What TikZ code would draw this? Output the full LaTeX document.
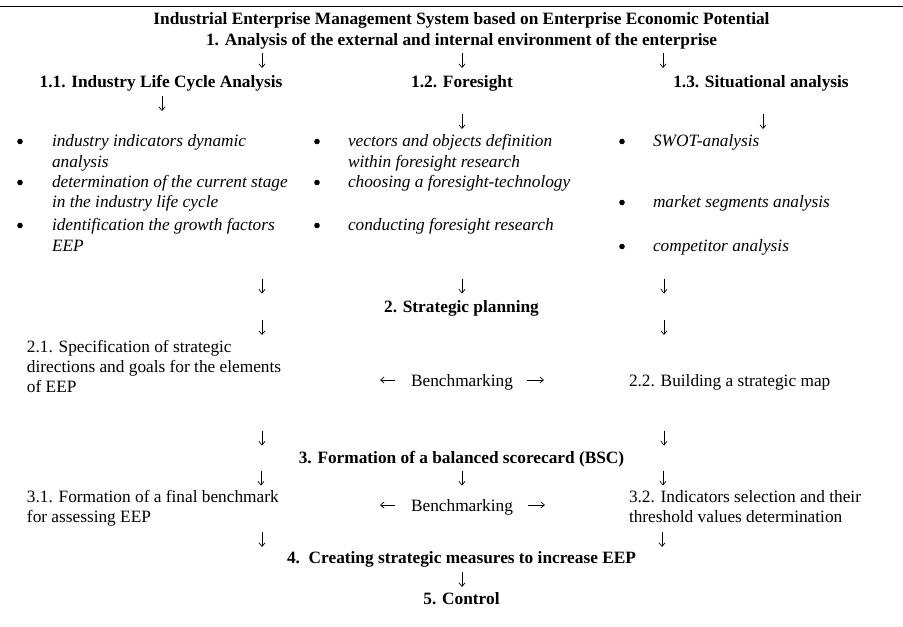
\documentclass[tikz,border=0pt]{standalone}
\usepackage{fontspec}
\setmainfont{Liberation Serif}
\usetikzlibrary{arrows.meta}
\newcommand\bodysize{\fontsize{17.3pt}{20.5pt}\selectfont}
% a short downward arrow #1 centred at (#2,#3)
\newcommand\downflow[3]{%
  \coordinate (#1-top) at (#2,#3-7.5);
  \coordinate (#1-tip) at (#2,#3+7.5);
  \draw[flowline] (#1-top) -- (#1-tip);}
% a short horizontal arrow #1 from x=#2 to x=#3 at height #4
\newcommand\sideflow[4]{%
  \coordinate (#1-tail) at (#2,#4);
  \coordinate (#1-tip) at (#3,#4);
  \draw[flowline] (#1-tail) -- (#1-tip);}
\tikzset{
  heading/.style={inner sep=0pt, outer sep=0pt, anchor=base, font=\bodysize\bfseries},
  plain/.style={inner sep=0pt, outer sep=0pt, anchor=base west, font=\bodysize},
  centred/.style={inner sep=0pt, outer sep=0pt, anchor=base, font=\bodysize},
  item/.style={inner sep=0pt, outer sep=0pt, anchor=base west, font=\bodysize\itshape},
  dot/.style={circle, fill=black, inner sep=0pt, minimum size=5.6pt},
  flowline/.style={line width=0.7pt, -{Straight Barb[length=3.6pt,width=6pt,line width=0.7pt]}},
  rule/.style={line width=0.9pt}
}
\begin{document}
\begin{tikzpicture}[x=1pt,y=-1pt]
  \useasboundingbox (0,0) rectangle (903,627);

  % top rule
  \coordinate (ruleL) at (0,6.5);
  \coordinate (ruleR) at (903,6.5);
  \draw[rule] (ruleL) -- (ruleR);

  % title and stage 1
  \node[heading] (title) at (461.5,24) {Industrial Enterprise Management System based on Enterprise Economic Potential};
  \node[heading] (s1) at (461.5,45) {1. Analysis of the external and internal environment of the enterprise};
  \downflow{d1a}{262}{60.5}
  \downflow{d1b}{462}{60.5}
  \downflow{d1c}{663}{60.5}
  \node[heading] (s11) at (161,87) {1.1. Industry Life Cycle Analysis};
  \node[heading] (s12) at (462,87) {1.2. Foresight};
  \node[heading] (s13) at (761,87) {1.3. Situational analysis};
  \downflow{d11}{162}{103.5}
  \downflow{d12}{462}{121.5}
  \downflow{d13}{763}{121.5}

  % 1.1 items
  \node[dot] (b11a) at (20,141.5) {};
  \node[item] (i11a) at (52,146) {industry indicators dynamic};
  \node[item] (i11a2) at (52,167) {analysis};
  \node[dot] (b11b) at (20,182.5) {};
  \node[item] (i11b) at (52,187) {determination of the current stage};
  \node[item] (i11b2) at (52,207) {in the industry life cycle};
  \node[dot] (b11c) at (20,225.5) {};
  \node[item] (i11c) at (52,230) {identification the growth factors};
  \node[item] (i11c2) at (52,251) {EEP};

  % 1.2 items
  \node[dot] (b12a) at (317,141.5) {};
  \node[item] (i12a) at (348,146) {vectors and objects definition};
  \node[item] (i12a2) at (348,167) {within foresight research};
  \node[dot] (b12b) at (317,182.5) {};
  \node[item] (i12b) at (348,187) {choosing a foresight-technology};
  \node[dot] (b12c) at (317,225.5) {};
  \node[item] (i12c) at (348,230) {conducting foresight research};

  % 1.3 items
  \node[dot] (b13a) at (622,141.5) {};
  \node[item] (i13a) at (653,146) {SWOT-analysis};
  \node[dot] (b13b) at (622,202.5) {};
  \node[item] (i13b) at (653,207) {market segments analysis};
  \node[dot] (b13c) at (622,246.5) {};
  \node[item] (i13c) at (653,251) {competitor analysis};

  % stage 2
  \downflow{d2a}{262}{286}
  \downflow{d2b}{462}{286}
  \downflow{d2c}{664}{286}
  \node[heading] (s2) at (461.5,312) {2. Strategic planning};
  \downflow{d2d}{262}{327.5}
  \downflow{d2e}{664}{327.5}
  \node[plain] (s21) at (27,352) {2.1. Specification of strategic};
  \node[plain] (s21b) at (27,372) {directions and goals for the elements};
  \node[plain] (s21c) at (27,392) {of EEP};
  \node[centred] (bm2) at (462,386) {Benchmarking};
  \sideflow{bm2l}{395}{380}{380}
  \sideflow{bm2r}{527}{544}{380}
  \node[plain] (s22) at (629,386) {2.2. Building a strategic map};
  \downflow{d2f}{262}{438}
  \downflow{d2g}{664}{438}

  % stage 3
  \node[heading] (s3) at (461.5,463) {3. Formation of a balanced scorecard (BSC)};
  \downflow{d3a}{261}{478}
  \downflow{d3b}{462}{478}
  \downflow{d3c}{663}{478}
  \node[plain] (s31) at (27,502) {3.1. Formation of a final benchmark};
  \node[plain] (s31b) at (27,522) {for assessing EEP};
  \node[centred] (bm3) at (462,511) {Benchmarking};
  \sideflow{bm3l}{395}{380}{505}
  \sideflow{bm3r}{528}{545}{505}
  \node[plain] (s32) at (629,502) {3.2. Indicators selection and their};
  \node[plain] (s32b) at (629,522) {threshold values determination};
  \downflow{d3d}{262}{539.5}
  \downflow{d3e}{662}{539.5}

  % stages 4 and 5
  \node[heading] (s4) at (461.5,563) {4.\ \ Creating strategic measures to increase EEP};
  \downflow{d4}{462}{579.5}
  \node[heading] (s5) at (461.5,604) {5. Control};
\end{tikzpicture}
\end{document}
